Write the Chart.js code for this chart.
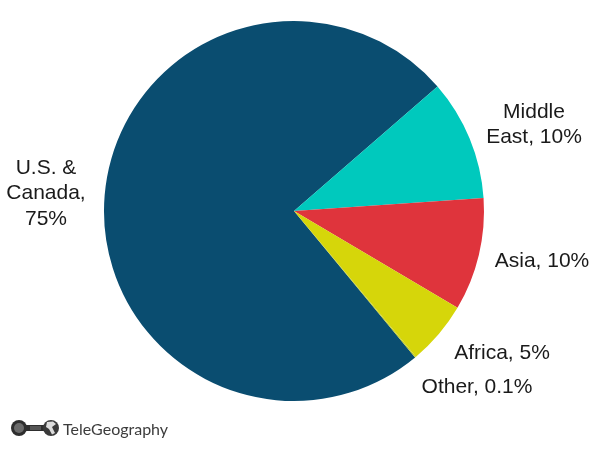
<!DOCTYPE html>
<html>
<head>
<meta charset="utf-8">
<title>Share by region</title>
<script src="https://cdn.jsdelivr.net/npm/chart.js@4"></script>
<style>
  html, body { margin: 0; padding: 0; background: #fff; }
  #wrap { position: relative; width: 600px; height: 450px; }
  #logo { position: absolute; left: 10px; top: 419px; }
  #marca { position: absolute; left: 63px; top: 419px; font: 16px Lato, sans-serif; color: #3c3c3c; }
</style>
</head>
<body>
<div id="wrap">
  <canvas id="grafico" width="600" height="450"></canvas>
  <svg id="logo" width="50" height="18" viewBox="0 0 50 18">
    <circle cx="9" cy="9" r="8" fill="#2e2e2e"/>
    <circle cx="9" cy="9" r="5" fill="#6a6a6a"/>
    <rect x="16" y="6" width="20" height="6" fill="#2e2e2e"/>
    <rect x="20" y="7" width="11" height="4" fill="#555"/>
    <circle cx="41" cy="9" r="8" fill="#3a3a3a"/>
    <path d="M37 3 L43 2.5 L46 5 L42 8 L45 14 L42 15.5 L39 10 L36 8 Z" fill="#dcdcdc"/>
  </svg>
  <div id="marca">TeleGeography</div>
</div>
<script>
// orden horario desde el limite amarillo/azul
const regiones = ['U.S. & Canada', 'Middle East', 'Asia', 'Africa', 'Other'];
const valores = [74.7, 10.3, 9.6, 5.4, 0.1];
const colores = ['#0a4d70', '#00c9bd', '#df343c', '#d6d60a', '#c4cc20'];

// texto de cada etiqueta, una entrada por linea
const lineasEtiqueta = [
  ['U.S. &', 'Canada,', '75%'],
  ['Middle', 'East, 10%'],
  ['Asia, 10%'],
  ['Africa, 5%'],
  ['Other, 0.1%']
];
const posEtiqueta = [
  { x: 46, y: 168 },
  { x: 534, y: 112 },
  { x: 542, y: 261 },
  { x: 502, y: 353 },
  { x: 477, y: 387 }
];

const etiquetasPlugin = {
  id: 'etiquetas',
  afterDraw(chart) {
    const ctx = chart.ctx;
    ctx.save();
    ctx.font = '21px "Liberation Sans", Arial, sans-serif';
    ctx.fillStyle = '#1a1a1a';
    ctx.textAlign = 'center';
    ctx.textBaseline = 'middle';
    lineasEtiqueta.forEach((lineas, i) => {
      lineas.forEach((linea, j) => {
        ctx.fillText(linea, posEtiqueta[i].x, posEtiqueta[i].y + j * 25.5);
      });
    });
    ctx.restore();
  }
};

new Chart(document.getElementById('grafico').getContext('2d'), {
  type: 'pie',
  data: {
    labels: regiones,
    datasets: [{
      data: valores,
      backgroundColor: colores,
      borderWidth: 0
    }]
  },
  options: {
    responsive: false,
    animation: false,
    rotation: 140.4,
    layout: { padding: { left: 104, right: 116, top: 21, bottom: 49 } },
    plugins: { legend: { display: false }, tooltip: { enabled: false } }
  },
  plugins: [etiquetasPlugin]
});
</script>
</body>
</html>
